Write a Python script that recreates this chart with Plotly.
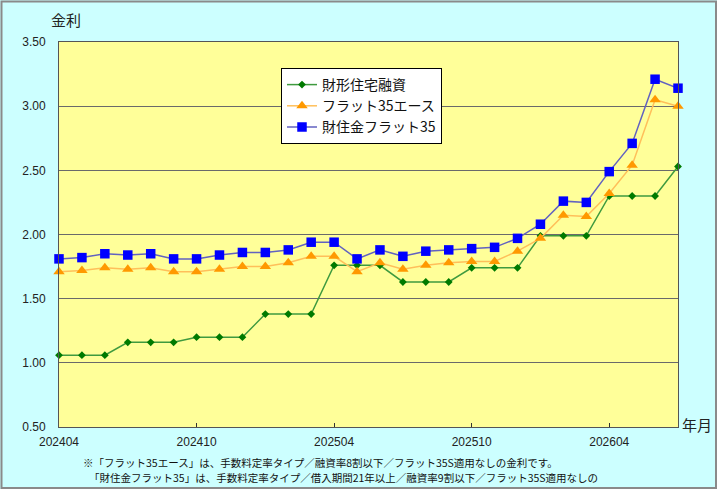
import plotly.graph_objects as go

# ---- data ----
months = ["202404", "202405", "202406", "202407", "202408", "202409",
          "202410", "202411", "202412", "202501", "202502", "202503",
          "202504", "202505", "202506", "202507", "202508", "202509",
          "202510", "202511", "202512", "202601", "202602", "202603",
          "202604", "202605", "202606", "202607"]
tick_months = ["202404", "202410", "202504", "202510", "202604"]

zaikei = [1.06, 1.06, 1.06, 1.16, 1.16, 1.16, 1.20, 1.20, 1.20, 1.38, 1.38, 1.38,
          1.76, 1.76, 1.76, 1.63, 1.63, 1.63, 1.74, 1.74, 1.74, 1.99, 1.99, 1.99,
          2.30, 2.30, 2.30, 2.53]
flat35_ace = [1.71, 1.72, 1.74, 1.73, 1.74, 1.71, 1.71, 1.73, 1.75, 1.75, 1.78, 1.83,
              1.83, 1.71, 1.78, 1.73, 1.76, 1.78, 1.79, 1.79, 1.87, 1.97, 2.15, 2.14,
              2.32, 2.54, 3.05, 3.00]
zaijukin_flat35 = [1.81, 1.82, 1.85, 1.84, 1.85, 1.81, 1.81, 1.84, 1.86, 1.86, 1.88, 1.94,
                   1.94, 1.81, 1.88, 1.83, 1.87, 1.88, 1.89, 1.90, 1.97, 2.08, 2.26, 2.25,
                   2.49, 2.71, 3.21, 3.14]

series_names = ["財形住宅融資", "フラット35エース", "財住金フラット35"]
footnote_lines = [
    "※「フラット35エース」は、手数料定率タイプ／融資率8割以下／フラット35S適用なしの金利です。",
    "「財住金フラット35」は、手数料定率タイプ／借入期間21年以上／融資率9割以下／フラット35S適用なしの",
]

# ---- layout geometry ----
W, H = 720, 493
ML, MR, MT, MB = 59, 42, 42, 66
PW, PH = W - ML - MR, H - MT - MB


def px2x(px):
    return (px - ML) / PW


def py2y(py):
    return (H - MB - py) / PH


JP = "Noto Sans CJK JP"
NUM = "Liberation Sans"

fig = go.Figure()
fig.add_trace(go.Scatter(
    x=months, y=zaikei, name=series_names[0], mode="lines+markers",
    line=dict(color="#3f9a3f", width=1.5),
    marker=dict(symbol="diamond", size=6, color="#007a00"),
    cliponaxis=False))
fig.add_trace(go.Scatter(
    x=months, y=flat35_ace, name=series_names[1], mode="lines+markers",
    line=dict(color="#ffbf5a", width=1.5),
    marker=dict(symbol="triangle-up", size=10, color="#ff9900"),
    cliponaxis=False))
fig.add_trace(go.Scatter(
    x=months, y=zaijukin_flat35, name=series_names[2], mode="lines+markers",
    line=dict(color="#6262c0", width=1.5),
    marker=dict(symbol="square", size=9.5, color="#0000ff"),
    cliponaxis=False))

shapes = [
    dict(type="rect", xref="paper", yref="paper",
         x0=px2x(717), x1=px2x(730), y0=py2y(-10), y1=py2y(500),
         fillcolor="white", line=dict(width=0), layer="above"),
    dict(type="rect", xref="paper", yref="paper",
         x0=px2x(-10), x1=px2x(730), y0=py2y(489), y1=py2y(500),
         fillcolor="white", line=dict(width=0), layer="above"),
    dict(type="rect", xref="paper", yref="paper",
         x0=px2x(1.5), x1=px2x(716), y0=py2y(488), y1=py2y(1.5),
         line=dict(color="#8a8a8a", width=2), layer="above"),
]

annotations = [
    dict(text="金利", x=px2x(66), y=py2y(20), xref="paper", yref="paper",
         xanchor="center", yanchor="middle", showarrow=False,
         font=dict(family=JP, size=15, color="#222")),
    dict(text="年月", x=px2x(697), y=py2y(424), xref="paper", yref="paper",
         xanchor="center", yanchor="middle", showarrow=False,
         font=dict(family=JP, size=15, color="#222")),
    dict(text=footnote_lines[0],
         x=px2x(82), y=py2y(462.5), xref="paper", yref="paper",
         xanchor="left", yanchor="middle", showarrow=False, borderpad=0,
         font=dict(family=JP, size=10.5, color="#111")),
    dict(text=footnote_lines[1],
         x=px2x(88), y=py2y(477.5), xref="paper", yref="paper",
         xanchor="left", yanchor="middle", showarrow=False, borderpad=0,
         font=dict(family=JP, size=10.5, color="#111")),
]

fig.update_layout(
    width=W, height=H,
    margin=dict(l=ML, r=MR, t=MT, b=MB, autoexpand=False),
    paper_bgcolor="#ccffff",
    plot_bgcolor="#ffff99",
    showlegend=True,
    legend=dict(x=px2x(281), y=py2y(68), xanchor="left", yanchor="top",
                bgcolor="white", bordercolor="black", borderwidth=1,
                font=dict(family=JP, size=14, color="#111"),
                traceorder="normal"),
    shapes=shapes,
    annotations=annotations,
    xaxis=dict(type="category", categoryorder="array", categoryarray=months,
               range=[0, len(months) - 1],
               tickmode="array", tickvals=tick_months, ticktext=tick_months,
               ticks="inside", ticklen=4, tickcolor="#333",
               showgrid=False, zeroline=False,
               showline=True, linecolor="#555", linewidth=1, mirror=True,
               ticklabelstandoff=4,
               tickfont=dict(family=NUM, size=12, color="#222")),
    yaxis=dict(range=[0.5, 3.5], dtick=0.5, tick0=0.5, tickformat=".2f",
               showgrid=True, gridcolor="#6a6a6a", gridwidth=1,
               zeroline=False, ticks="",
               showline=True, linecolor="#555", linewidth=1, mirror=True,
               ticklabelstandoff=10,
               tickfont=dict(family=NUM, size=12, color="#222")),
)

fig.write_html("out.html")
